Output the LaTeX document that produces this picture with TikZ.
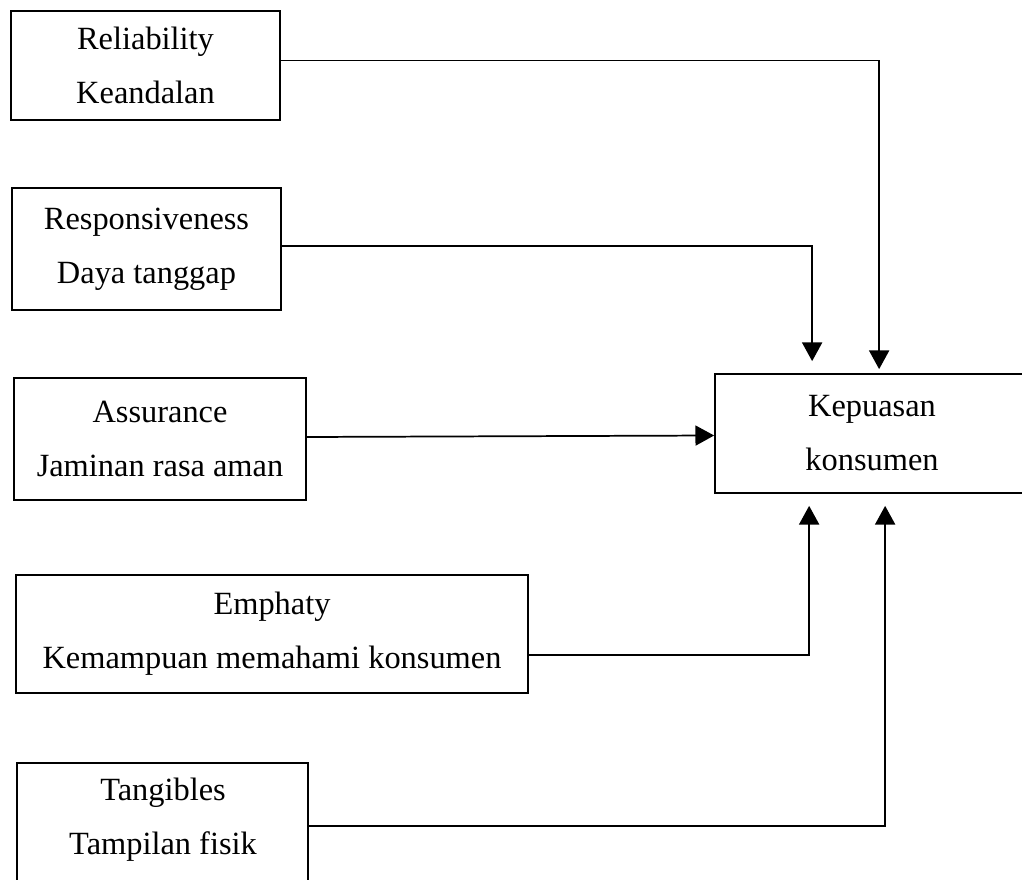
\documentclass[tikz,border=0pt]{standalone}
\usepackage{fontspec}
\setmainfont{Liberation Serif}
\usetikzlibrary{arrows.meta,calc}
\begin{document}
\begin{tikzpicture}[x=0.75pt,y=-0.75pt,
  txt/.style={font=\fontsize{24.3}{40.5}\selectfont},
  box/.style={draw,line width=1.3pt,inner sep=0pt,align=center,txt},
  arr/.style={line width=1.3pt,-{Triangle[length=14pt,width=15pt]}}]
\path[use as bounding box] (0,0) rectangle (1022,880);
\clip (0,0) rectangle (1022,880);
\node[box,minimum width={269*0.75pt},minimum height={109*0.75pt}] (rel) at (145.5,65.5) {Reliability\\Keandalan};
\node[box,minimum width={269*0.75pt},minimum height={122*0.75pt}] (res) at (146.5,249) {Responsiveness\\Daya tanggap};
\node[box,minimum width={292*0.75pt},minimum height={122*0.75pt}] (ass) at (160,439) {Assurance\\Jaminan rasa aman};
\node[box,minimum width={512*0.75pt},minimum height={118*0.75pt}] (emp) at (272,634) {Emphaty\\Kemampuan memahami konsumen};
\node[box,minimum width={291*0.75pt},minimum height={140*0.75pt}] (tan) at (162.5,833) {};
\node[txt,align=center] (tant) at (163,820) {Tangibles\\Tampilan fisik};
\node[box,minimum width={345*0.75pt},minimum height={119*0.75pt}] (kep) at (887.5,433.5) {};
\node[txt,align=center] (kept) at (872,433) {Kepuasan\\konsumen};
\coordinate (ta) at ($(kep.north west)+(165,-4)$);
\coordinate (tb) at ($(kep.north west)+(98,-12)$);
\coordinate (td) at ($(kep.south west)+(95,12)$);
\coordinate (te) at ($(kep.south west)+(171,12)$);
\draw[arr] ($(rel.east)+(0,-5)$) -| (ta);
\draw[arr] ($(res.east)+(0,-3)$) -| (tb);
\draw[arr] ($(ass.east)+(0,-2)$) -- ($(kep.west)+(0,2)$);
\draw[arr] ($(emp.east)+(0,21)$) -| (td);
\draw[arr] (tan.east |- 0,826) -| (te);
\end{tikzpicture}
\end{document}
